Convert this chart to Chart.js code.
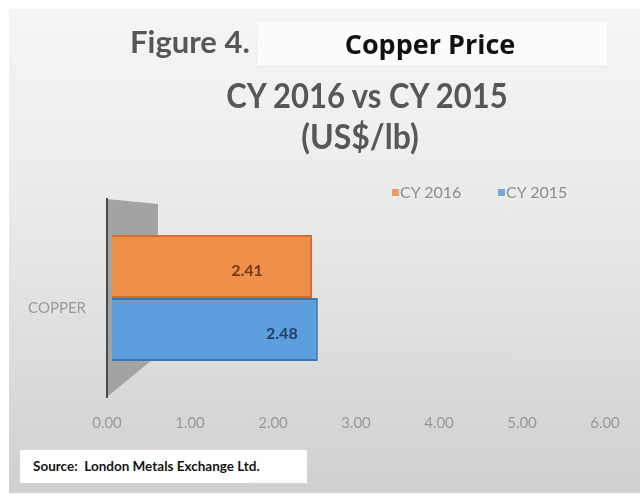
<!DOCTYPE html>
<html>
<head>
<meta charset="utf-8">
<script src="https://cdn.jsdelivr.net/npm/chart.js@4.4.1/dist/chart.umd.min.js"></script>
<style>
  html, body { margin: 0; padding: 0; background: #fff; }
  #page { position: relative; width: 644px; height: 495px; overflow: hidden; background: #fff; }
  #panel {
    position: absolute; left: 9px; top: 9px; width: 631px; height: 484px;
    background: linear-gradient(to bottom, #f5f5f5 0%, #eeeeee 30%, #e2e2e2 60%, #d6d6d6 85%, #d0d0d0 100%);
  }
  #chart { position: absolute; left: 0; top: 0; }
  .txt { position: absolute; line-height: 1; white-space: nowrap; font-family: Lato, "Open Sans", sans-serif; }
  #fig { left: 130px; top: 26px; font-size: 31px; font-weight: bold; color: #565656; }
  #titleBox { position: absolute; left: 258px; top: 22px; width: 349px; height: 43px; background: #fcfcfc; }
  #title1 { left: 430px; top: 30px; transform: translateX(-50%); font-family: "Open Sans", sans-serif; font-size: 27px; font-weight: bold; color: #111; }
  #title2 { left: 367px; top: 80px; transform: translateX(-50%) scaleY(1.08); font-size: 31px; font-weight: bold; color: #575757; }
  #title3 { left: 360px; top: 120px; transform: translateX(-50%) scaleY(1.08); font-size: 32px; font-weight: bold; color: #575757; }
  #legend { position: absolute; left: 0; top: 0; }
  .leg-box { position: absolute; width: 7px; height: 7px; }
  .leg-txt { font-size: 16px; color: #8c8c8c; }
  #source {
    position: absolute; left: 20px; top: 450px; width: 287px; height: 33px; background: #fff;
    font-family: Lato, sans-serif; font-weight: bold; font-size: 13.5px; color: #151515;
    line-height: 33px; padding-left: 13px; box-sizing: border-box; white-space: nowrap;
  }
</style>
</head>
<body>
<div id="page">
  <div id="panel"></div>
  <canvas id="chart" width="644" height="495"></canvas>
  <div class="txt" id="fig">Figure 4.</div>
  <div id="titleBox"></div>
  <div class="txt" id="title1">Copper Price</div>
  <div class="txt" id="title2">CY 2016 vs CY 2015</div>
  <div class="txt" id="title3">(US$/lb)</div>
  <div id="legend"></div>
  <div id="source">Source:&nbsp; London Metals Exchange Ltd.</div>
</div>
<script>
(function() {

  // ── Data ──
  var categories = ['COPPER'];
  var seriesNames = ['CY 2016', 'CY 2015'];
  var cy2016 = [2.41];
  var cy2015 = [2.48];
  var axisMin = 0;
  var axisMax = 6;
  var axisStep = 1;

  var seriesColors = ['#f08f4a', '#5d9fdc'];
  var seriesBorders = ['#cf6f2e', '#3f78b0'];
  var labelColors = ['#74391a', '#233f68'];

  // ── Legend (html) ──
  var legendPos = [{ box: 392, txt: 400 }, { box: 498, txt: 506 }];
  var legend = document.getElementById('legend');
  seriesNames.forEach(function(name, i) {
    var b = document.createElement('div');
    b.className = 'leg-box';
    b.style.left = legendPos[i].box + 'px';
    b.style.top = '189px';
    b.style.background = seriesColors[i];
    b.style.opacity = '0.85';
    legend.appendChild(b);
    var t = document.createElement('div');
    t.className = 'txt leg-txt';
    t.style.left = legendPos[i].txt + 'px';
    t.style.top = '184px';
    t.textContent = name;
    legend.appendChild(t);
  });

  // ── 3D back wall behind the bars ──
  var wallPlugin = {
    id: 'wall',
    beforeDraw: function(chart) {
      var a = chart.chartArea;
      var ctx = chart.ctx;
      ctx.save();
      ctx.beginPath();
      ctx.moveTo(a.left, a.top);
      ctx.lineTo(a.left + 51, a.top + 5);
      ctx.lineTo(a.left + 51, a.bottom - 42);
      ctx.lineTo(a.left, a.bottom);
      ctx.closePath();
      ctx.fillStyle = '#a3a3a3';
      ctx.fill();
      ctx.restore();
    }
  };

  // ── Bars shifted for depth + value labels ──
  var depthPlugin = {
    id: 'depth',
    beforeDatasetsDraw: function(chart) {
      chart.ctx.save();
      chart.ctx.translate(5, 0);
    },
    afterDatasetsDraw: function(chart) {
      var ctx = chart.ctx;
      chart.data.datasets.forEach(function(ds, i) {
        var meta = chart.getDatasetMeta(i);
        meta.data.forEach(function(bar, j) {
          ctx.font = 'bold 16px Lato, sans-serif';
          ctx.fillStyle = labelColors[i];
          ctx.textAlign = 'center';
          ctx.textBaseline = 'middle';
          ctx.fillText(ds.data[j].toFixed(2), bar.x - ds.labelInset, bar.y + 4);
        });
      });
      ctx.restore();
    }
  };

  var ctx = document.getElementById('chart').getContext('2d');
  new Chart(ctx, {
    type: 'bar',
    data: {
      labels: categories,
      datasets: [
        {
          label: seriesNames[0],
          data: cy2016,
          backgroundColor: seriesColors[0],
          borderColor: seriesBorders[0],
          borderWidth: 2,
          labelInset: 65
        },
        {
          label: seriesNames[1],
          data: cy2015,
          backgroundColor: seriesColors[1],
          borderColor: seriesBorders[1],
          borderWidth: 2,
          labelInset: 36
        }
      ]
    },
    options: {
      indexAxis: 'y',
      responsive: false,
      animation: false,
      devicePixelRatio: 1,
      categoryPercentage: 0.636,
      barPercentage: 1,
      layout: { padding: { top: 199, right: 39, bottom: 58, left: 0 } },
      plugins: {
        legend: { display: false },
        title: { display: false },
        tooltip: { enabled: false }
      },
      scales: {
        x: {
          min: axisMin,
          max: axisMax,
          grid: { display: false, drawTicks: false },
          border: { display: false },
          ticks: {
            stepSize: axisStep,
            padding: 17,
            color: '#999999',
            font: { family: 'Lato', size: 15 },
            callback: function(v) { return Number(v).toFixed(2); }
          },
          afterFit: function(s) { s.height = 40; }
        },
        y: {
          grid: { display: false, drawTicks: false },
          border: { display: true, color: '#4a4a4a', width: 2 },
          ticks: {
            padding: 21,
            labelOffset: 10,
            color: '#9a9a9a',
            font: { family: 'Lato', size: 15 }
          },
          afterFit: function(s) { s.width = 107; }
        }
      }
    },
    plugins: [wallPlugin, depthPlugin]
  });

})();
</script>
</body>
</html>
